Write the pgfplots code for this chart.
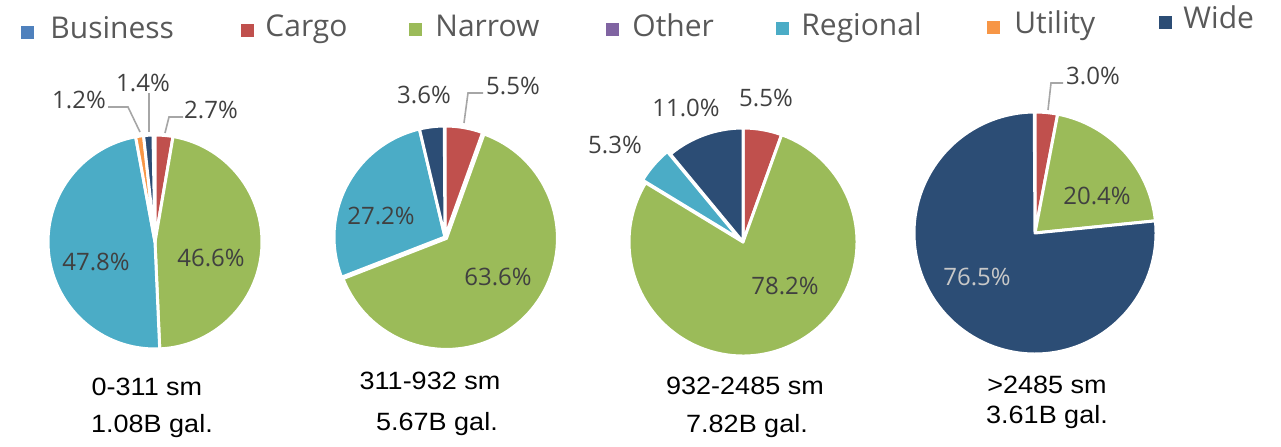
\documentclass[border=0pt]{standalone}
\usepackage{pgfplots}
\pgfplotsset{compat=1.18}
\usepackage{pgfplotstable}
\usepackage{graphicx}
\usepackage{fontspec}
\setmainfont{Open Sans}
\newfontfamily\arialf{Liberation Sans}

\definecolor{business}{HTML}{4F81BD}
\definecolor{cargo}{HTML}{C0504D}
\definecolor{narrow}{HTML}{9BBB59}
\definecolor{other}{HTML}{8064A2}
\definecolor{regional}{HTML}{4BACC6}
\definecolor{utility}{HTML}{F79646}
\definecolor{wide}{HTML}{2C4D75}
\definecolor{txt}{HTML}{404040}
\definecolor{legtxt}{HTML}{595959}
\definecolor{leader}{HTML}{A6A6A6}
\definecolor{lighttxt}{HTML}{C8C8C8}

% value, colour, explode (px)
\pgfplotstableread{
v c e
2.7 cargo 0
46.6 narrow 0
47.8 regional 0
1.2 utility 0
1.4 wide 0
}\pieA
\pgfplotstableread{
v c e
5.5 cargo 0
63.6 narrow 2
27.2 regional 0
3.6 wide 0
}\pieB
\pgfplotstableread{
v c e
5.5 cargo 0
78.2 narrow 0
5.3 regional 4
11.0 wide 0
}\pieC
\pgfplotstableread{
v c e
3.0 cargo 0
20.4 narrow 0
76.5 wide 0
}\pieD

\newcommand\drawpie[4]{%
  \pgfplotstablegetrowsof{#4}%
  \pgfmathtruncatemacro\nlast{\pgfplotsretval-1}%
  \def\cum{0}%
  \pgfplotsforeachungrouped \i in {0,...,\nlast}{%
    \pgfplotstablegetelem{\i}{v}\of{#4}\let\val\pgfplotsretval
    \pgfplotstablegetelem{\i}{c}\of{#4}\let\col\pgfplotsretval
    \pgfplotstablegetelem{\i}{e}\of{#4}\let\ex\pgfplotsretval
    \pgfmathsetmacro\a{90-3.6*\cum}%
    \pgfmathsetmacro\b{90-3.6*(\cum+\val)}%
    \pgfmathsetmacro\m{(\a+\b)/2}%
    \pgfmathsetmacro\px{#1+\ex*cos(\m)}%
    \pgfmathsetmacro\py{#2+\ex*sin(\m)}%
    \pgfmathsetmacro\rr{#3*0.5}%
    \edef\tmp{\noexpand\fill[fill=\col,draw=white,line width=1.5pt,line join=round] (axis cs:\px,\py) -- ++(\a:\rr pt) arc[start angle=\a,end angle=\b,radius=\rr pt] -- cycle;}%
    \tmp
    \pgfmathsetmacro\cum{\cum+\val}%
  }%
}

\tikzset{
  lbl/.style={font=\fontsize{12}{14}\selectfont,text=txt,inner sep=0pt,anchor=center},
  leg/.style={font=\fontsize{15}{18}\selectfont,text=legtxt,inner sep=0pt,anchor=base west},
  mk/.style={inner sep=0pt,minimum size=6.5pt,draw=none},
  bot/.style={font=\arialf\fontsize{12.5}{15}\selectfont,text=black,inner sep=0pt,anchor=base},
  ld/.style={draw=leader,line width=0.8pt}}

\begin{document}
\begin{tikzpicture}
\begin{axis}[x=0.5pt,y=0.5pt,xmin=0,xmax=1281,ymin=0,ymax=446,
  hide axis,clip=false]

\drawpie{155}{204}{107}{\pieA}
\drawpie{445}{209}{111}{\pieB}
\drawpie{743}{204}{114}{\pieC}
\drawpie{1035}{213}{121}{\pieD}

% legend
\node[mk,fill=business] at (axis cs:27.5,413) {};
\node[leg] at (axis cs:50,407) {Business};
\node[mk,fill=cargo] at (axis cs:247,415.5) {};
\node[leg] at (axis cs:265,409) {Cargo};
\node[mk,fill=narrow] at (axis cs:415,416.5) {};
\node[leg] at (axis cs:435,409) {Narrow};
\node[mk,fill=other] at (axis cs:612,416) {};
\node[leg] at (axis cs:632,409) {Other};
\node[mk,fill=regional] at (axis cs:782,417) {};
\node[leg] at (axis cs:801,410) {Regional};
\node[mk,fill=utility] at (axis cs:993,418.5) {};
\node[leg] at (axis cs:1014,412) {Utility};
\node[mk,fill=wide] at (axis cs:1165,423.5) {};
\node[leg] at (axis cs:1183,417) {Wide};

% leader lines
\draw[ld] (axis cs:108,339) -- (axis cs:128,339) -- (axis cs:140,314);
\draw[ld] (axis cs:149,353) -- (axis cs:149,314);
\draw[ld] (axis cs:183,329) -- (axis cs:169,329) -- (axis cs:165,313);
\draw[ld] (axis cs:483,353) -- (axis cs:468,353) -- (axis cs:464,323);
\draw[ld] (axis cs:1063,363) -- (axis cs:1051,363) -- (axis cs:1048,336);

% pie labels
\node[lbl] at (axis cs:79,346) {1.2\%};
\node[lbl] at (axis cs:143,363) {1.4\%};
\node[lbl] at (axis cs:211,336) {2.7\%};
\node[lbl] at (axis cs:96,184) {47.8\%};
\node[lbl] at (axis cs:211,188) {46.6\%};

\node[lbl] at (axis cs:424,351) {3.6\%};
\node[lbl] at (axis cs:513,360) {5.5\%};
\node[lbl] at (axis cs:381,230) {27.2\%};
\node[lbl] at (axis cs:498,169) {63.6\%};

\node[lbl] at (axis cs:615,301) {5.3\%};
\node[lbl] at (axis cs:686,338) {11.0\%};
\node[lbl] at (axis cs:766,348) {5.5\%};
\node[lbl] at (axis cs:785,160) {78.2\%};

\node[lbl] at (axis cs:1093,370) {3.0\%};
\node[lbl] at (axis cs:1097,250) {20.4\%};
\node[lbl,text=lighttxt] at (axis cs:977,169) {76.5\%};

% bottom labels
\node[bot] at (axis cs:147,51) {\scalebox{1.08}[1]{0-311 sm}};
\node[bot] at (axis cs:152,14) {\scalebox{1.08}[1]{1.08B gal.}};
\node[bot] at (axis cs:430,57) {\scalebox{1.08}[1]{311-932 sm}};
\node[bot] at (axis cs:437,16) {\scalebox{1.08}[1]{5.67B gal.}};
\node[bot] at (axis cs:745,52) {\scalebox{1.08}[1]{932-2485 sm}};
\node[bot] at (axis cs:747,14) {\scalebox{1.08}[1]{7.82B gal.}};
\node[bot] at (axis cs:1047,53) {\scalebox{1.08}[1]{>2485 sm}};
\node[bot] at (axis cs:1047,23) {\scalebox{1.08}[1]{3.61B gal.}};
\end{axis}
\pgfresetboundingbox
\useasboundingbox (current axis.south west) rectangle (current axis.north east);
\end{tikzpicture}
\end{document}
